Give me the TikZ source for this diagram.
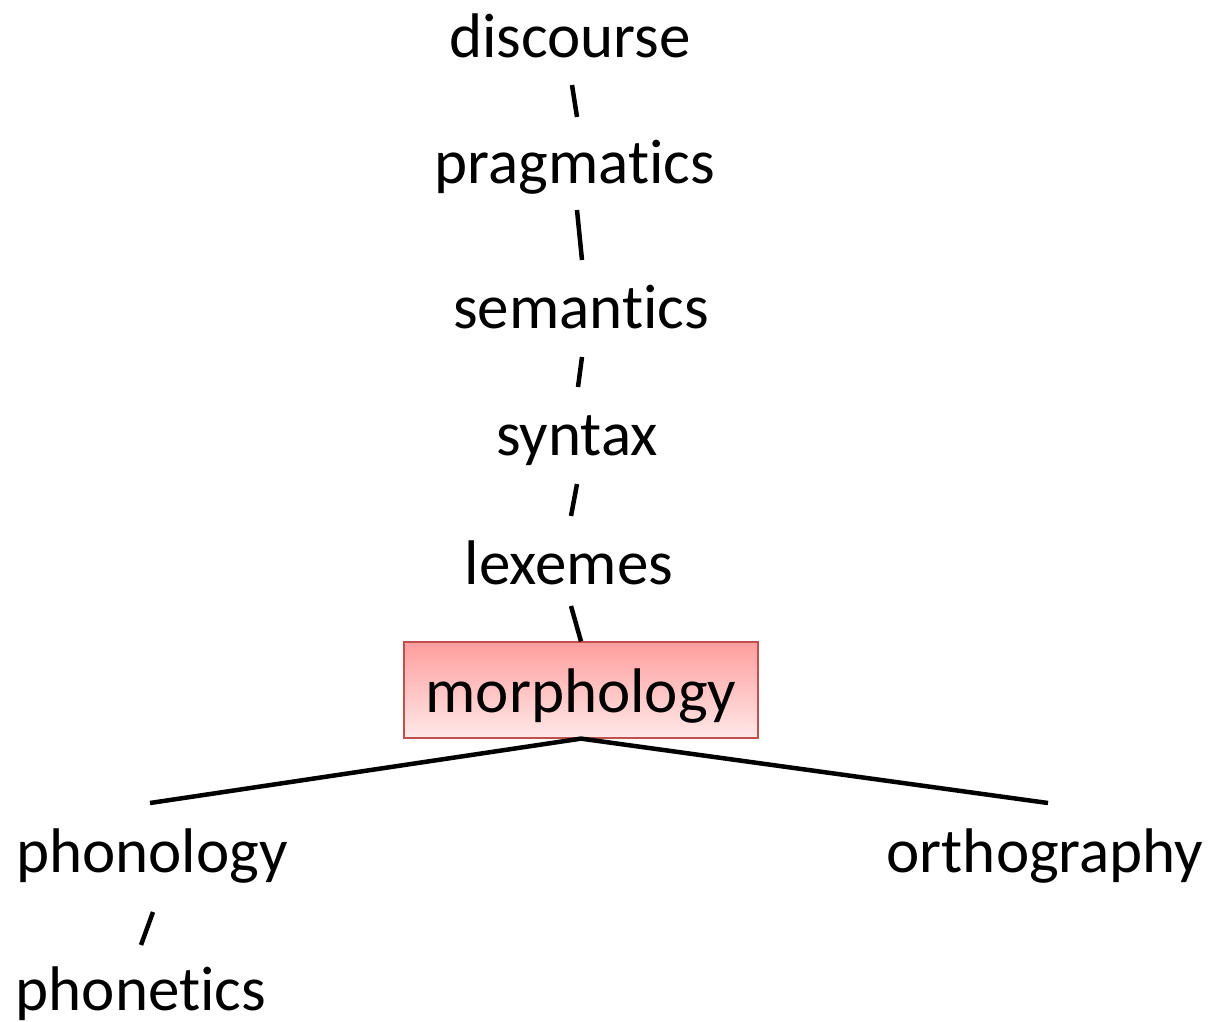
\documentclass[tikz,border=0pt]{standalone}
\usepackage{fontspec}
\setmainfont[RawFeature=-liga]{Carlito}
\usetikzlibrary{calc}
\definecolor{boxedge}{RGB}{192,80,77}
\definecolor{boxtop}{RGB}{255,158,158}
\definecolor{boxbot}{RGB}{255,232,232}
\begin{document}
\begin{tikzpicture}[x=1pt,y=-1pt,
  lbl/.style={anchor=base,inner sep=0pt,font=\fontsize{63}{70}\selectfont},
  conn/.style={line width=4.5pt,black},
  mbox/.style={lbl,draw=boxedge,line width=1.2pt,top color=boxtop,bottom color=boxbot,
    minimum width=354pt,inner ysep=10pt,text height=60pt,text depth=16pt}]
\useasboundingbox (0,0) rectangle (1214,1021);
\node[lbl] (d) at (570,57) {discourse};
\node[lbl] (p) at (575,183) {pragmatics};
\node[lbl] (s) at (581,328) {semantics};
\node[lbl] (y) at (577,455) {syntax};
\node[lbl] (l) at (569,584) {lexemes};
\node[mbox] (m) at (581,712) {morphology};
\node[lbl] (ph) at (152,872) {phonology};
\node[lbl] (o) at (1045,872) {orthography};
\node[lbl] (pt) at (141,1010) {phonetics};
\draw[conn] ($(d.base)+(2,28)$) -- ($(p.base)+(2,-66)$);
\draw[conn] ($(p.base)+(2,27)$) -- ($(s.base)+(1,-68)$);
\draw[conn] ($(s.base)+(1,29)$) -- ($(y.base)+(1,-68)$);
\draw[conn] ($(y.base)+(0,29)$) -- ($(l.base)+(2,-68)$);
\draw[conn] ($(l.base)+(2,22)$) -- (m.north);
\draw[conn] ($(ph.base)+(-2,-69)$) -- (m.south) -- ($(o.base)+(3,-69)$);
\draw[conn] ($(ph.base)+(1,40)$) -- ($(pt.base)+(0,-65)$);
\end{tikzpicture}
\end{document}
